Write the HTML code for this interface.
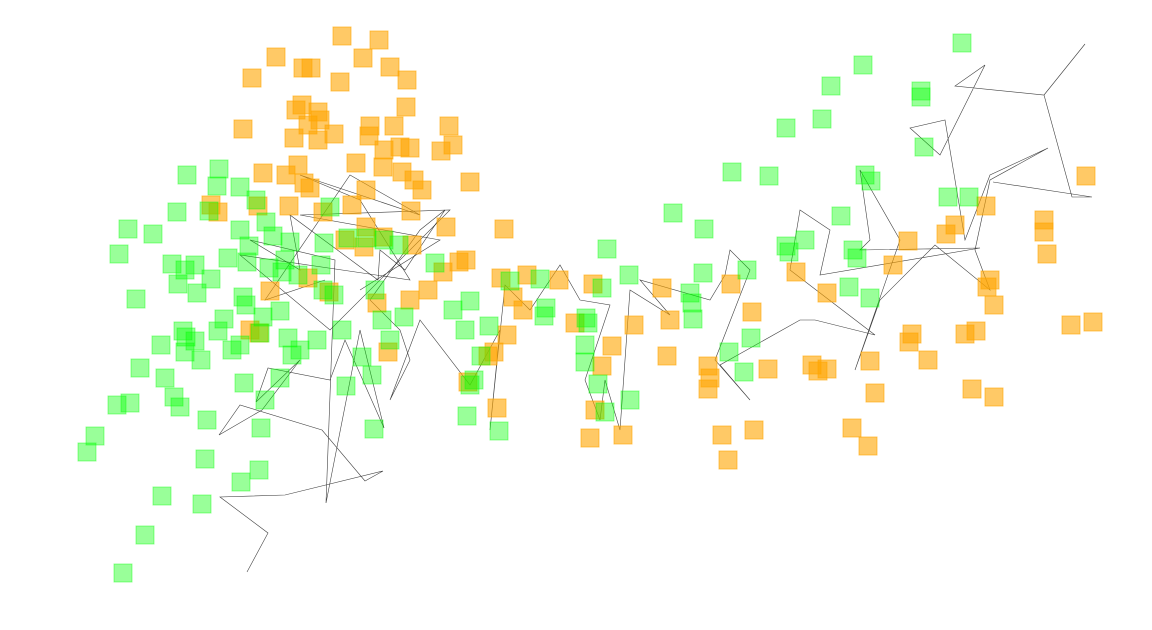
<!DOCTYPE html>
<html><head><meta charset="utf-8"><style>
html,body{margin:0;padding:0;background:#fff;width:1152px;height:630px;overflow:hidden}
</style></head><body>
<svg id="chart" width="1152" height="630" xmlns="http://www.w3.org/2000/svg">
<g id="line-layer"></g>
<g id="orange-layer"></g>
<g id="green-layer"></g>
</svg>
<script>
const orangeX=[342,379,276,363,303,311,390,252,340,407,406,296,302,318,320,308,243,294,334,370,394,449,369,318,400,384,410,441,453,298,356,383,263,286,402,304,310,414,470,422,366,211,218,289,323,352,411,258,366,446,504,345,383,412,364,459,466,443,501,527,559,593,308,270,329,410,377,428,513,523,575,634,662,670,731,752,796,827,893,908,955,946,986,1044,1044,1047,1086,990,987,994,1071,1093,976,965,912,909,928,870,875,972,994,852,868,812,818,827,768,708,710,708,722,754,728,667,612,602,595,590,623,497,468,494,488,507,388,250,259];
const orangeY=[36,40,57,58,68,68,67,78,82,80,107,110,105,112,120,125,129,138,134,126,126,126,136,140,147,150,148,151,145,165,163,167,173,175,172,183,188,180,182,190,190,205,212,206,212,205,211,206,227,227,229,240,237,245,247,262,260,272,278,275,280,284,278,291,292,300,303,290,297,310,323,325,288,320,284,312,272,293,265,241,225,234,206,220,232,254,176,280,287,305,325,322,331,334,334,342,360,361,393,389,397,428,446,365,371,369,369,366,378,389,435,430,460,356,346,366,410,438,435,408,382,352,356,335,352,330,333];
const greenX=[962,863,831,921,921,822,786,924,732,769,865,871,948,969,841,673,704,805,786,789,853,857,747,703,849,870,690,692,693,751,729,744,629,602,607,586,588,546,544,510,540,489,470,465,453,435,481,474,470,467,499,585,585,598,605,630,187,219,217,240,256,177,209,128,153,119,172,195,185,178,197,211,228,249,266,273,290,247,269,285,282,298,324,321,330,323,334,136,243,263,280,246,224,218,183,186,195,161,185,201,232,240,260,288,292,300,317,342,362,372,140,165,174,180,130,117,207,244,265,280,346,375,382,390,404,95,87,261,374,205,259,241,162,202,145,123,399,384,367,348,240];
const greenY=[43,65,86,91,97,119,128,147,172,176,175,181,197,197,216,213,229,240,246,252,250,258,270,273,287,298,293,303,319,338,352,372,275,288,249,318,323,308,316,281,279,326,301,330,310,263,356,380,385,416,431,345,362,384,412,400,175,169,186,187,200,212,211,229,234,254,264,265,270,284,293,279,258,246,222,236,242,262,268,260,272,275,243,265,207,290,295,299,297,317,311,305,319,331,331,337,341,345,352,360,350,345,333,338,355,350,340,330,357,375,368,378,397,407,403,405,420,383,400,378,386,290,320,340,317,436,452,428,429,459,470,482,496,504,535,573,245,240,238,238,230];
const lineX=[325,265,350,420,300,360,410,240,330,450,300,440,360,247,268,220,285,383,365,322,240,219,262,300,256,268,330,345,384,360,326,335,250,300,290,378,380,405,445,420,370,400,410,390,420,470,500,490,505,530,560,580,610,585,600,605,620,630,670,640,710,725,730,750,715,750,720,800,815,875,790,800,830,820,980,860,870,860,900,855,880,935,990,975,990,1048,990,965,945,910,940,985,955,1044,1085,1044,1072,1092,993];
const lineY=[280,300,175,215,175,200,280,255,330,210,215,240,290,572,533,497,495,471,481,430,405,435,410,360,402,368,380,340,428,330,503,260,240,270,215,280,250,270,210,230,300,330,360,400,320,385,330,430,285,310,265,300,305,380,420,380,430,290,315,280,300,275,250,270,360,400,365,320,320,335,270,210,230,275,248,250,240,170,240,370,300,245,290,250,180,148,175,240,120,128,155,65,86,95,44,95,197,197,182];
const lineSeg=[0,0,0,0,0,0,0,0,0,0,0,0,0,1,1,1,1,1,1,1,1,1,1,1,1,1,1,1,1,1,1,1,1,1,1,1,1,1,1,1,1,1,1,1,1,1,1,1,1,1,1,1,1,1,1,1,1,1,1,1,1,1,1,1,1,1,1,1,1,1,1,1,1,1,1,1,1,1,1,1,1,1,1,1,1,1,1,1,1,1,1,1,1,1,1,1,1,1,1];
const xScale=v=>v*1152/1152;
const yScale=v=>v*630/630;
const NS='http://www.w3.org/2000/svg';
const lineG=document.getElementById('line-layer');
const segs={};
lineX.forEach((x,i)=>{(segs[lineSeg[i]]=segs[lineSeg[i]]||[]).push(xScale(x)+','+yScale(lineY[i]));});
Object.keys(segs).forEach(k=>{
  const pl=document.createElementNS(NS,'polyline');
  pl.setAttribute('points',segs[k].join(' '));
  pl.setAttribute('fill','none');pl.setAttribute('stroke','#000');pl.setAttribute('stroke-width','0.6');pl.setAttribute('stroke-opacity','0.75');
  
  
  lineG.appendChild(pl);
});
function drawSquares(g,xs,ys,color,op,name){
  xs.forEach((x,i)=>{
    const r=document.createElementNS(NS,'rect');
    r.setAttribute('x',xScale(x)-9);r.setAttribute('y',yScale(ys[i])-9);
    r.setAttribute('width',18);r.setAttribute('height',18);
    r.setAttribute('fill',color);r.setAttribute('fill-opacity',op);
    r.setAttribute('stroke',color);r.setAttribute('stroke-opacity',op);r.setAttribute('stroke-width','1');
    
    
    g.appendChild(r);
  });
}
drawSquares(document.getElementById('orange-layer'),orangeX,orangeY,'#ffa500',0.6,'orange-point');
drawSquares(document.getElementById('green-layer'),greenX,greenY,'#00ff00',0.4,'green-point');
</script>
</body></html>
